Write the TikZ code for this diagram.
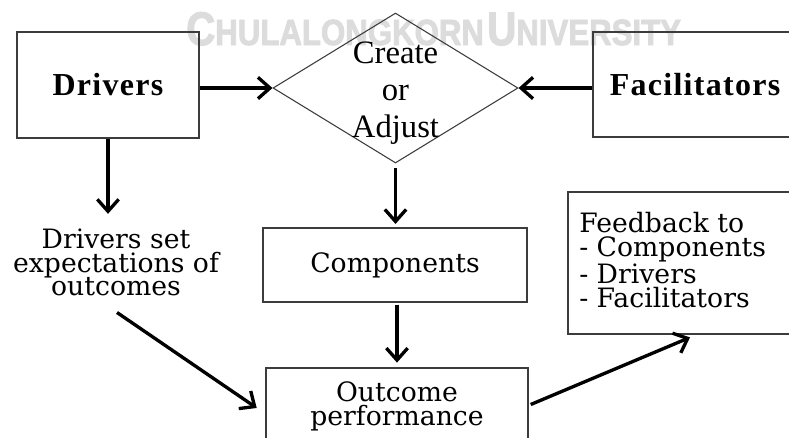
\documentclass[tikz,border=0pt]{standalone}
\usepackage{fontspec}
\usepackage{graphicx}
\setmainfont{DejaVu Serif}
\newfontfamily\tnr{Liberation Serif}
\newfontfamily\tnrb{Liberation Serif}[LetterSpace=4]
\newfontfamily\wmfont{Liberation Sans}[FakeBold=2.5]
\usetikzlibrary{shapes.geometric,arrows.meta}
\definecolor{wm}{RGB}{220,220,220}
\definecolor{edge}{RGB}{60,60,60}
\begin{document}
\begin{tikzpicture}[x=0.75pt,y=-0.75pt,
  box/.style={draw=edge,line width=1.1pt,inner sep=0pt},
  arr/.style={line width=2.5pt,-{Straight Barb[length=9pt,width=16pt]}},
  boldlab/.style={font=\tnrb\bfseries\fontsize{24pt}{24pt}\selectfont},
  lab/.style={inner sep=0pt,font=\fontsize{20pt}{17.8pt}\selectfont}]
\useasboundingbox (0,0) rectangle (789,437);
\clip (0,0) rectangle (789,437);
\fill[white] (0,0) rectangle (789,437);
% watermark
\node[anchor=base west, inner sep=0pt, text=wm, font=\wmfont\bfseries] (wmk) at (186,45)
  {\scalebox{0.9}[1.05]{{\fontsize{33.5pt}{33.5pt}\selectfont C}{\fontsize{26pt}{26pt}\selectfont HULALONGKORN} {\fontsize{33.5pt}{33.5pt}\selectfont U}{\fontsize{26pt}{26pt}\selectfont NIVERSITY}}};
% boxes
\node[box, boldlab, minimum width=136.5pt, minimum height=79.5pt] (drivers) at (108,85) {Drivers};
\node[box, boldlab, minimum width=153pt, minimum height=78.75pt] (fac) at (695,84.5) {Facilitators};
\node[draw=edge, line width=0.8pt, shape=diamond, minimum width=183.75pt, minimum height=112.5pt, inner sep=0pt] (ca) at (395.5,88) {};
\node[inner sep=0pt, align=center, font=\tnr\fontsize{24.5pt}{27.75pt}\selectfont] (catext) at (395.5,93) {Create\\or\\Adjust};
\node[box, lab, minimum width=198pt, minimum height=55.5pt] (comp) at (395,265) {Components};
\node[box, lab, align=center, font=\fontsize{20pt}{17.6pt}\selectfont, minimum width=196.5pt, minimum height=57.75pt] (out) at (397,406.5) {Outcome\\performance};
\node[lab, align=center] (exp) at (116,262.5) {Drivers set\\expectations of\\outcomes};
\node[box, minimum width=174pt, minimum height=106.5pt] (fb) at (684,263) {};
\node[lab, align=left, anchor=north west, font=\fontsize{20pt}{18pt}\selectfont] (fbtext) at (579,212) {Feedback to\\- Components\\- Drivers\\- Facilitators};
% connectors
\draw[arr] (drivers.east |- ca.west) -- (ca.west);
\draw[arr] (fac.west |- ca.east) -- (ca.east);
\draw[arr, shorten >=11pt] (drivers.south) -- (drivers.south |- exp.north);
\draw[arr, shorten <=3.5pt, shorten >=2.5pt] (ca.south) -- (ca.south |- comp.north);
\draw[arr, shorten <=1.5pt, shorten >=3.5pt] (comp.south -| out.north) -- (out.north);
\draw[arr] ([xshift=0.75pt,yshift=-12pt]exp.south) -- ([xshift=-6.4pt,yshift=-1.1pt]out.west);
\draw[arr] ([xshift=1.5pt,yshift=1.5pt]out.east) -- ([xshift=4.5pt,yshift=-2pt]fb.south);
\end{tikzpicture}
\end{document}
